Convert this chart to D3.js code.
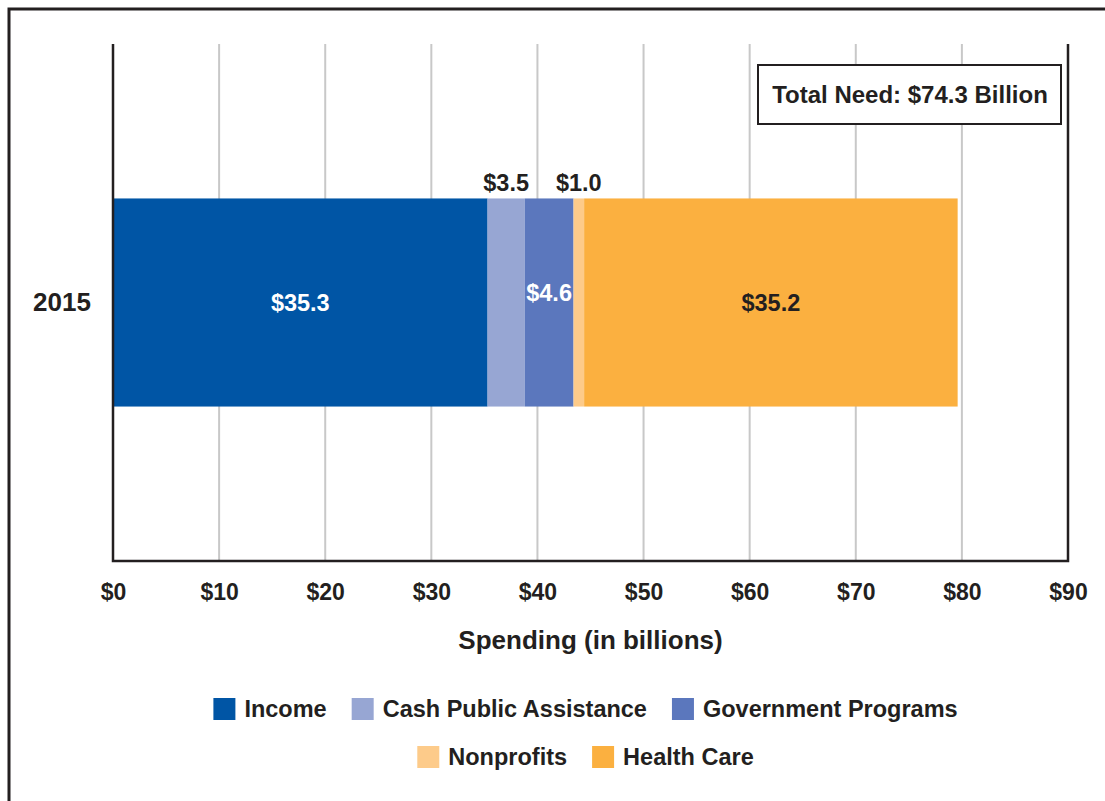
<!DOCTYPE html>
<html>
<head>
<meta charset="utf-8">
<style>
  body { margin: 0; background: #fff; }
  text { font-family: "Liberation Sans", Arial, sans-serif; font-weight: bold; fill: #231f20; }
  .grid line { stroke: #c8c8c8; stroke-width: 2; }
</style>
</head>
<body>
<script src="https://d3js.org/d3.v7.min.js"></script>
<div id="chart"></div>
<script>
var categories = ["2015"];
var seriesNames = ["Income", "Cash Public Assistance", "Government Programs", "Nonprofits", "Health Care"];
var seriesValues = [35.3, 3.5, 4.6, 1.0, 35.2];
var seriesColors = ["#0055a5", "#97a6d3", "#5b77bd", "#fdcb8a", "#fbb040"];
var tickValues = [0, 10, 20, 30, 40, 50, 60, 70, 80, 90];
var totalNote = "Total Need: $74.3 Billion";
var axisTitle = "Spending (in billions)";

var width = 1105, height = 801;
var plotLeft = 113, plotRight = 1068, plotTop = 44, plotBottom = 561;

var svg = d3.select("#chart").append("svg")
    .attr("width", width)
    .attr("height", height);

// outer frame (only top and left edges show)
svg.append("path")
    .attr("d", "M9,801 V9 H1105")
    .attr("fill", "none")
    .attr("stroke", "#231f20")
    .attr("stroke-width", 3);

var x = d3.scaleLinear().domain([0, 90]).range([plotLeft, plotRight]);
var y = d3.scaleBand().domain(categories).range([plotTop, plotBottom]).padding(0.426);

// gridlines
svg.append("g")
    .attr("class", "grid")
    .selectAll("line")
    .data(tickValues.slice(1, -1))
    .enter().append("line")
    .attr("x1", function(d) { return x(d); })
    .attr("x2", function(d) { return x(d); })
    .attr("y1", plotTop)
    .attr("y2", plotBottom);

// stacked segments
var stack = [];
var acc = 0;
seriesValues.forEach(function(v, i) {
    stack.push({name: seriesNames[i], value: v, x0: acc, x1: acc + v, color: seriesColors[i]});
    acc += v;
});

var by = y(categories[0]), bh = y.bandwidth();

svg.selectAll(".seg")
    .data(stack)
    .enter().append("rect")
    .attr("class", "seg")
    .attr("x", function(d) { return x(d.x0); })
    .attr("width", function(d) { return x(d.x1) - x(d.x0); })
    .attr("y", by)
    .attr("height", bh)
    .attr("fill", function(d) { return d.color; });

// value labels: small segments get their label above the bar
svg.selectAll(".val")
    .data(stack)
    .enter().append("text")
    .attr("class", "val")
    .attr("text-anchor", "middle")
    .attr("x", function(d) { return x((d.x0 + d.x1) / 2); })
    .attr("y", function(d) {
        if (d.value < 4) return by - 7;
        if (d.value < 10) return by + bh / 2 - 2;
        return by + bh / 2 + 8;
    })
    .style("font-size", "23.5px")
    .style("fill", function(d) {
        if (d.value < 4) return "#231f20";
        return d.name == "Health Care" ? "#231f20" : "#fff";
    })
    .text(function(d) { return "$" + d.value.toFixed(1); });

// axis frame
svg.append("path")
    .attr("d", "M" + plotLeft + "," + plotTop + " V" + plotBottom + " H" + plotRight + " V" + plotTop)
    .attr("fill", "none")
    .attr("stroke", "#231f20")
    .attr("stroke-width", 2.5);

// x tick labels
var xAxis = svg.append("g")
    .attr("transform", "translate(0," + plotBottom + ")")
    .call(d3.axisBottom(x).tickValues(tickValues).tickSize(0).tickPadding(23)
        .tickFormat(function(d) { return "$" + d; }));
xAxis.select(".domain").remove();
xAxis.selectAll("text")
    .attr("fill", "#231f20")
    .style("font-family", "'Liberation Sans', Arial, sans-serif")
    .style("font-weight", "bold")
    .style("font-size", "23px");

// category label
svg.selectAll(".cat")
    .data(categories)
    .enter().append("text")
    .attr("class", "cat")
    .attr("text-anchor", "middle")
    .attr("x", 62)
    .attr("y", function(d) { return y(d) + y.bandwidth() / 2 + 8; })
    .style("font-size", "26px")
    .text(function(d) { return d; });

// axis title
svg.append("text")
    .attr("text-anchor", "middle")
    .attr("x", (plotLeft + plotRight) / 2)
    .attr("y", 649)
    .style("font-size", "26px")
    .text(axisTitle);

// total need box
svg.append("rect")
    .attr("x", 758).attr("y", 65)
    .attr("width", 303).attr("height", 59)
    .attr("fill", "#fff")
    .attr("stroke", "#231f20")
    .attr("stroke-width", 2);
svg.append("text")
    .attr("text-anchor", "middle")
    .attr("x", 910)
    .attr("y", 103)
    .style("font-size", "24px")
    .text(totalNote);

// legend, two centred rows
var legendRows = [[0, 1, 2], [3, 4]];
legendRows.forEach(function(row, r) {
    var g = svg.append("g");
    var cx = 0;
    row.forEach(function(i) {
        var item = g.append("g").attr("transform", "translate(" + cx + ",0)");
        item.append("rect")
            .attr("x", 0).attr("y", -11)
            .attr("width", 22).attr("height", 22)
            .attr("fill", seriesColors[i]);
        var t = item.append("text")
            .attr("x", 31).attr("y", 8)
            .style("font-size", "23.5px")
            .text(seriesNames[i]);
        cx += 31 + t.node().getComputedTextLength() + 25;
    });
    var w = cx - 25;
    g.attr("transform", "translate(" + ((plotLeft + plotRight) / 2 - 5 - w / 2) + "," + (709 + r * 48) + ")");
});
</script>
</body>
</html>
